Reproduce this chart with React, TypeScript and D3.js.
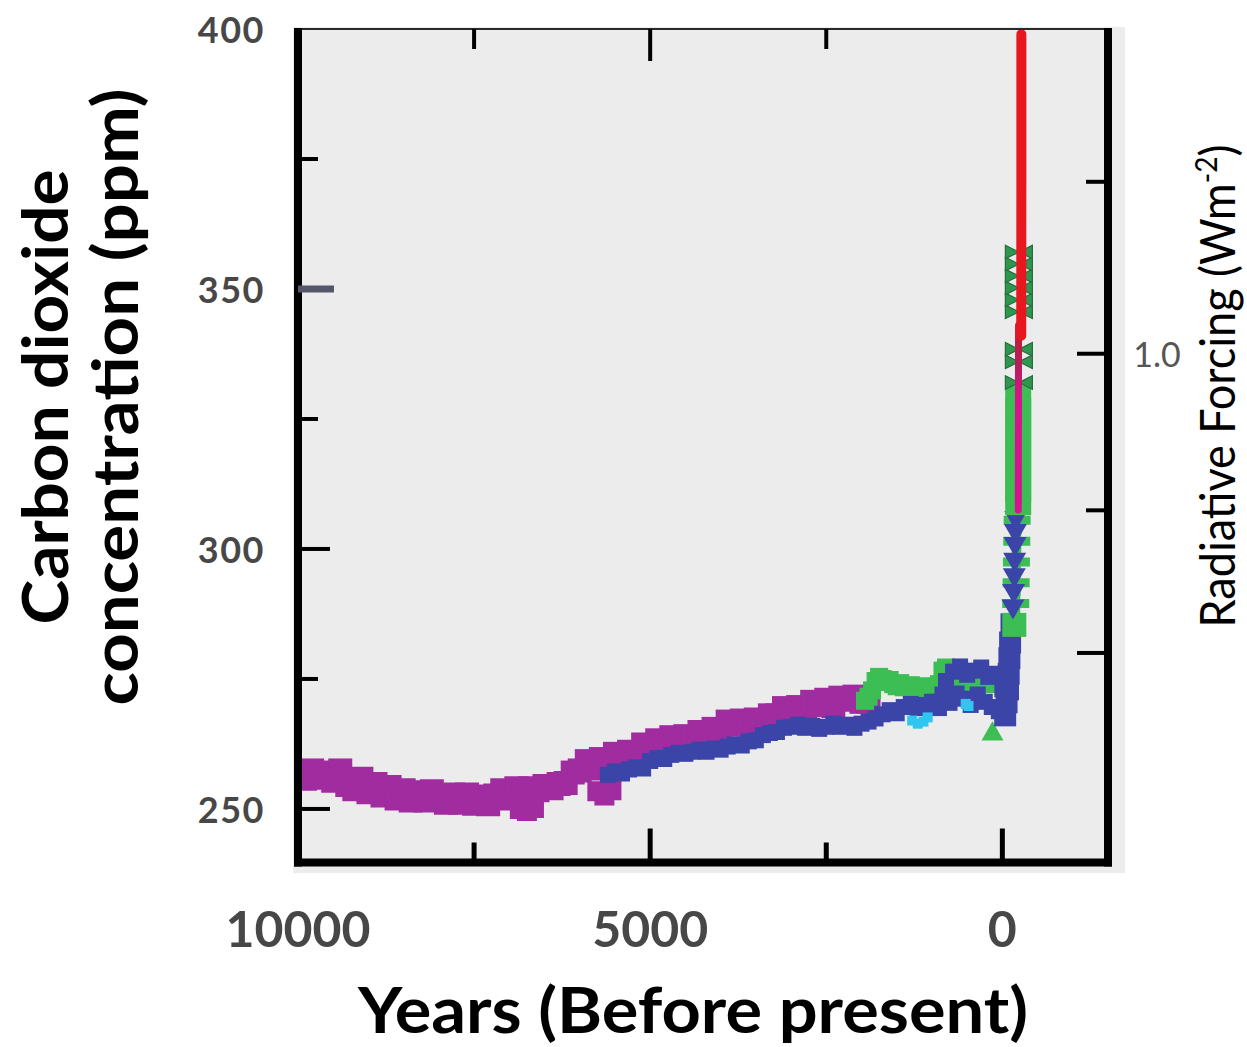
import React from "react";
import * as d3 from "d3";

const WIDTH = 1247;
const HEIGHT = 1047;

// Long Antarctic record, one sample per century, 10 000 – 1 900 yr BP (ppm)
const purpleYears = d3.range(10000, 1850, -100);
const purplePpm = [
  257.2, 255.8, 257.4, 256.0, 257.0, 255.4, 257.4, 254.6, 253.8, 255.8,
  253.2, 254.8, 252.6, 254.2, 252.0, 253.6, 251.6, 253.2, 251.6, 253.4,
  251.8, 251.2, 252.8, 251.2, 252.8, 251.0, 252.4, 250.9, 252.6, 253.6,
  252.0, 254.0, 253.4, 254.0, 253.6, 254.4, 254.0, 254.8, 255.0, 257.0,
  257.4, 259.2, 257.8, 259.6, 258.2, 260.6, 260.0, 261.0, 260.6, 262.4,
  261.4, 263.2, 262.0, 263.8, 263.0, 264.0, 263.6, 264.8, 264.2, 265.4,
  265.0, 266.8, 266.2, 267.0, 266.2, 267.2, 266.4, 268.0, 268.0, 269.4,
  268.8, 269.6, 269.0, 270.6, 270.0, 271.0, 269.8, 271.4, 271.0, 271.6,
  270.6, 270.6,
];
// Low samples in the same record
const purpleLowYears = [6850, 6750, 6650, 5750, 5650, 5550];
const purpleLowPpm = [250.0, 249.6, 250.2, 253.4, 252.6, 253.6];

// Second record, 5 600 yr BP to present
const blueYears = [
  5600, 5500, 5400, 5300, 5200, 5100, 5000, 4900, 4800, 4700,
  4600, 4500, 4400, 4300, 4200, 4100, 4000, 3900, 3800, 3700,
  3600, 3500, 3400, 3300, 3200, 3100, 3000, 2900, 2800, 2700,
  2600, 2500, 2400, 2300, 2200, 2100, 2000, 1900, 1800, 1700,
  1600, 1500, 1400, 1300, 1200, 1100, 1000,
  950, 900, 850, 800, 750, 700, 650, 600, 550, 500,
  450, 400, 350, 300, 250, 200, 150, 100, 50, 0,
];
const bluePpm = [
  256.6, 257.2, 256.8, 257.6, 258.0, 257.8, 259.2, 259.8, 259.6, 260.4,
  260.8, 260.6, 261.0, 261.4, 261.0, 261.6, 261.4, 262.0, 262.4, 262.2,
  263.0, 263.2, 264.2, 264.6, 264.8, 265.6, 265.8, 266.2, 265.6, 266.0,
  265.4, 265.8, 266.4, 265.8, 266.2, 265.6, 266.4, 266.8, 267.4, 268.2,
  269.0, 268.4, 269.6, 270.2, 269.4, 270.0, 270.6,
  270.6, 269.4, 272.0, 274.6, 270.4, 276.4, 272.2, 277.4, 271.2, 275.8,
  270.0, 276.6, 272.0, 277.2, 270.6, 275.4, 269.6, 276.0, 268.8, 273.0,
];
// Industrial-era rise of the second record
const blueRiseYears = [-40, -60, -80, -90, -100, -110, -130];
const blueRisePpm = [268.0, 270.5, 273.0, 276.0, 279.0, 282.0, 285.5];
const blueColYears = [-150, -160, -170, -175, -180, -185, -190];
const blueColPpm = [289.0, 292.0, 295.0, 298.0, 301.0, 303.5, 306.0];

// Third record, last two millennia
const greenYears = [
  1950, 1900, 1850, 1800, 1750, 1700, 1650, 1600, 1550, 1500,
  1450, 1400, 1300, 1200, 1100, 1000, 900, 850, 800, 750,
  700, 600, 500, 400, 300, 200, 100,
];
const greenPpm = [
  270.8, 271.6, 272.8, 274.6, 275.4, 275.0, 274.4, 274.8, 274.0, 273.6,
  274.2, 273.4, 273.8, 273.2, 273.6, 273.0, 274.0, 276.6, 277.2, 276.4,
  275.0, 274.0, 273.6, 274.6, 275.2, 274.0, 275.0,
];
const greenLowYears = [140];
const greenLowPpm = [264.4];
const greenBlockYears = [-170];
const greenBlockPpm = [285.4];
const greenCrossYears = [-190, -195, -200, -205, -210];
const greenCrossPpm = [289.5, 293.5, 297.5, 301.5, 305.5];
const greenColYears = [-225, -225, -225, -225, -225, -225, -225, -225, -225];
const greenColPpm = [309.0, 311.5, 314.0, 316.5, 319.0, 321.5, 324.0, 326.5, 329.0];
const greenBowYears = [-235, -235, -235, -235, -235, -235, -235, -235, -235];
const greenBowPpm = [332.0, 336.0, 338.4, 345.6, 347.9, 350.2, 352.5, 354.8, 357.1];

// Fourth record, a handful of samples
const cyanYears = [1280, 1200, 1120, 1060, 520, 480];
const cyanPpm = [267.0, 266.4, 266.8, 267.6, 270.2, 269.8];

// Firn air and direct atmospheric measurements
const firnYears = [-226, -228, -230];
const firnPpm = [307.5, 325.0, 343.0];
const atmosYears = [-268, -270, -270];
const atmosPpm = [341.0, 370.0, 399.0];

// Axes
const yearTicks = [7500, 5000, 2500, 0];
const yearTopTicks = [7500, 5000, 2500];
const yearLabels = [10000, 5000, 0];
const ppmTicks = [375, 350, 325, 300, 275, 250];
const ppmLabels = [400, 350, 300, 250];
const forcingTicks = [0, 0.5, 1.0, 1.5];
const forcingLabels = [1.0];

const PURPLE = "#a02ca0";
const BLUE = "#3b45a8";
const GREEN = "#3cbe55";
const GREEN_DARK = "#2f9650";
const CYAN = "#2fc6f0";
const RED = "#e8161e";
const MAGENTA = "#d6138f";
const LABEL_GREY = "#474747";
const FONT = "Lato, 'Open Sans', 'DejaVu Sans', sans-serif";

// Sideways hourglass marker
const symbolBowtie = {
  draw(context: any, size: number) {
    const w = Math.sqrt(size) / 2;
    const h = w * 0.5;
    context.moveTo(-w, -h);
    context.lineTo(w, h);
    context.lineTo(w, -h);
    context.lineTo(-w, h);
    context.closePath();
  },
};

export default function App() {
  const x = d3.scaleLinear().domain([10000, -1500]).range([298, 1108]);
  const y = d3.scaleLinear().domain([239.7, 400]).range([862.5, 29]);
  const left = x(10000);
  const right = x(-1500);
  const top = y(400);
  const bottom = y(239.7);

  // CO2 concentration for a given radiative forcing (W m^-2)
  const forcingPpm = (f: number) => 280 * Math.exp(f / 5.35);

  const squarePath = (s: number) => d3.symbol().type(d3.symbolSquare).size(s * s)() as string;
  const trianglePath = (w: number) =>
    d3.symbol().type(d3.symbolTriangle).size((w * w * Math.sqrt(3)) / 4)() as string;
  const crossPath = (w: number) =>
    d3.symbol().type(d3.symbolCross).size(5 * (w / 3) * (w / 3))() as string;
  const bowtiePath = (w: number) => d3.symbol().type(symbolBowtie as any).size(w * w)() as string;

  const markers = (
    key: string,
    years: number[],
    ppm: number[],
    d: string,
    fill: string,
    extra: any = {},
    rotate = 0
  ) =>
    years.map((yr, i) => (
      <path
        key={`${key}-${i}`}
        d={d}
        fill={fill}
        transform={`translate(${x(yr)},${y(ppm[i])})${rotate ? ` rotate(${rotate})` : ""}`}
        {...extra}
      />
    ));

  const pathFor = (years: number[], ppm: number[]) =>
    d3
      .line<[number, number]>()
      .x((d) => x(d[0]))
      .y((d) => y(d[1]))(years.map((yr, i) => [yr, ppm[i]] as [number, number])) as string;

  return (
    <svg
      width={WIDTH}
      height={HEIGHT}
      viewBox={`0 0 ${WIDTH} ${HEIGHT}`}
      style={{ position: "absolute", left: 0, top: 0, background: "#ffffff" }}
    >
      <defs>
        <clipPath id="plotClip">
          <rect x={left} y={top} width={right - left} height={bottom - top} />
        </clipPath>
        <linearGradient
          id="firnGrad"
          gradientUnits="userSpaceOnUse"
          x1={0}
          x2={0}
          y1={y(343)}
          y2={y(329)}
        >
          <stop offset="0" stopColor="#c81a34" />
          <stop offset="0.55" stopColor="#b41f58" />
          <stop offset="1" stopColor={MAGENTA} />
        </linearGradient>
      </defs>

      <rect x={0} y={0} width={WIDTH} height={HEIGHT} fill="#ffffff" />
      <rect x={left - 5} y={top - 2} width={1125 - (left - 5)} height={873 - (top - 2)} fill="#ececec" />

      <g clipPath="url(#plotClip)">
        {markers("pu", purpleYears, purplePpm, squarePath(24), PURPLE)}
        {markers("pl", purpleLowYears, purpleLowPpm, squarePath(20), PURPLE)}
        {markers("gr", greenYears, greenPpm, squarePath(18), GREEN)}
        {markers("bl", blueYears, bluePpm, squarePath(16), BLUE)}
        {markers("cy", cyanYears, cyanPpm, squarePath(10), CYAN)}
        {markers("gt", greenLowYears, greenLowPpm, trianglePath(22), GREEN)}
        {markers("br", blueRiseYears, blueRisePpm, squarePath(22), BLUE)}
        {markers("gb", greenBlockYears, greenBlockPpm, squarePath(24), GREEN)}
        {markers("gx", greenCrossYears, greenCrossPpm, crossPath(27), GREEN)}
        {markers("bc", blueColYears, blueColPpm, trianglePath(23), BLUE, {}, 180)}
        {markers("gc", greenColYears, greenColPpm, squarePath(26), GREEN)}
        {markers("gw", greenBowYears, greenBowPpm, bowtiePath(27), GREEN_DARK, {
          stroke: "#256e3d",
          strokeWidth: 1.2,
        })}
        <path
          d={pathFor(firnYears, firnPpm)}
          fill="none"
          stroke="url(#firnGrad)"
          strokeWidth={7}
          strokeLinecap="round"
        />
        <path
          d={pathFor(atmosYears, atmosPpm)}
          fill="none"
          stroke={RED}
          strokeWidth={10}
          strokeLinecap="round"
        />
      </g>

      {/* frame */}
      <line x1={left} x2={right} y1={top} y2={top} stroke="#2a2a2a" strokeWidth={2} />
      <line x1={left} x2={left} y1={top - 1} y2={bottom + 4} stroke="#000" strokeWidth={8} />
      <line x1={right} x2={right} y1={top - 1} y2={bottom + 4} stroke="#000" strokeWidth={8} />
      <line x1={left - 4} x2={right + 4} y1={bottom} y2={bottom} stroke="#000" strokeWidth={8} />

      {/* left ticks */}
      {ppmTicks.map((v) => {
        const special = v === 350;
        const len = special ? 36 : v % 50 === 0 ? 32 : 20;
        return (
          <line
            key={`lt-${v}`}
            x1={left}
            x2={left + len}
            y1={y(v)}
            y2={y(v)}
            stroke={special ? "#55566a" : "#000"}
            strokeWidth={special ? 7 : 4}
          />
        );
      })}
      {ppmLabels.map((v) => (
        <text
          key={`ll-${v}`}
          x={265}
          y={y(v)}
          textAnchor="end"
          dominantBaseline="central"
          fontFamily={FONT}
          fontWeight={700}
          fontSize={36}
          letterSpacing={1.5}
          fill={LABEL_GREY}
        >
          {v}
        </text>
      ))}

      {/* bottom and top ticks */}
      {yearTicks.map((v) => (
        <line
          key={`bt-${v}`}
          x1={x(v)}
          x2={x(v)}
          y1={bottom}
          y2={bottom - (v % 5000 === 0 ? 34 : 20)}
          stroke="#000"
          strokeWidth={5}
        />
      ))}
      {yearTopTicks.map((v) => (
        <line
          key={`tt-${v}`}
          x1={x(v)}
          x2={x(v)}
          y1={top}
          y2={top + (v % 5000 === 0 ? 32 : 20)}
          stroke="#000"
          strokeWidth={4}
        />
      ))}
      {yearLabels.map((v) => (
        <text
          key={`bl-${v}`}
          x={x(v)}
          y={928}
          textAnchor="middle"
          dominantBaseline="central"
          fontFamily={FONT}
          fontWeight={700}
          fontSize={50}
          fill={LABEL_GREY}
        >
          {v}
        </text>
      ))}

      {/* right (radiative forcing) ticks */}
      {forcingTicks.map((f) => (
        <line
          key={`rt-${f}`}
          x1={right}
          x2={right - (f % 1 === 0 ? 31 : 22)}
          y1={y(forcingPpm(f))}
          y2={y(forcingPpm(f))}
          stroke="#000"
          strokeWidth={4}
        />
      ))}
      {forcingLabels.map((f) => (
        <text
          key={`rl-${f}`}
          x={right + 49}
          y={y(forcingPpm(f))}
          textAnchor="middle"
          dominantBaseline="central"
          fontFamily={FONT}
          fontSize={34}
          fill="#555"
        >
          {f.toFixed(1)}
        </text>
      ))}

      {/* axis titles */}
      <text
        transform="translate(68,397) rotate(-90)"
        textAnchor="middle"
        fontFamily={FONT}
        fontWeight={700}
        fontSize={64}
        textLength={455}
        lengthAdjust="spacingAndGlyphs"
        fill="#000"
      >
        Carbon dioxide
      </text>
      <text
        transform="translate(138,397) rotate(-90)"
        textAnchor="middle"
        fontFamily={FONT}
        fontWeight={700}
        fontSize={64}
        textLength={617}
        lengthAdjust="spacingAndGlyphs"
        fill="#000"
      >
        concentration (ppm)
      </text>
      <text
        x={693}
        y={1033}
        textAnchor="middle"
        fontFamily={FONT}
        fontWeight={700}
        fontSize={64}
        textLength={670}
        lengthAdjust="spacingAndGlyphs"
        fill="#000"
      >
        Years (Before present)
      </text>
      <text
        transform="translate(1235,386) rotate(-90)"
        textAnchor="middle"
        fontFamily={FONT}
        fontSize={48}
        textLength={483}
        lengthAdjust="spacingAndGlyphs"
        fill="#000"
      >
        Radiative Forcing (Wm
        <tspan fontSize={30} dy={-18}>
          -2
        </tspan>
        <tspan dy={18}>)</tspan>
      </text>
    </svg>
  );
}
